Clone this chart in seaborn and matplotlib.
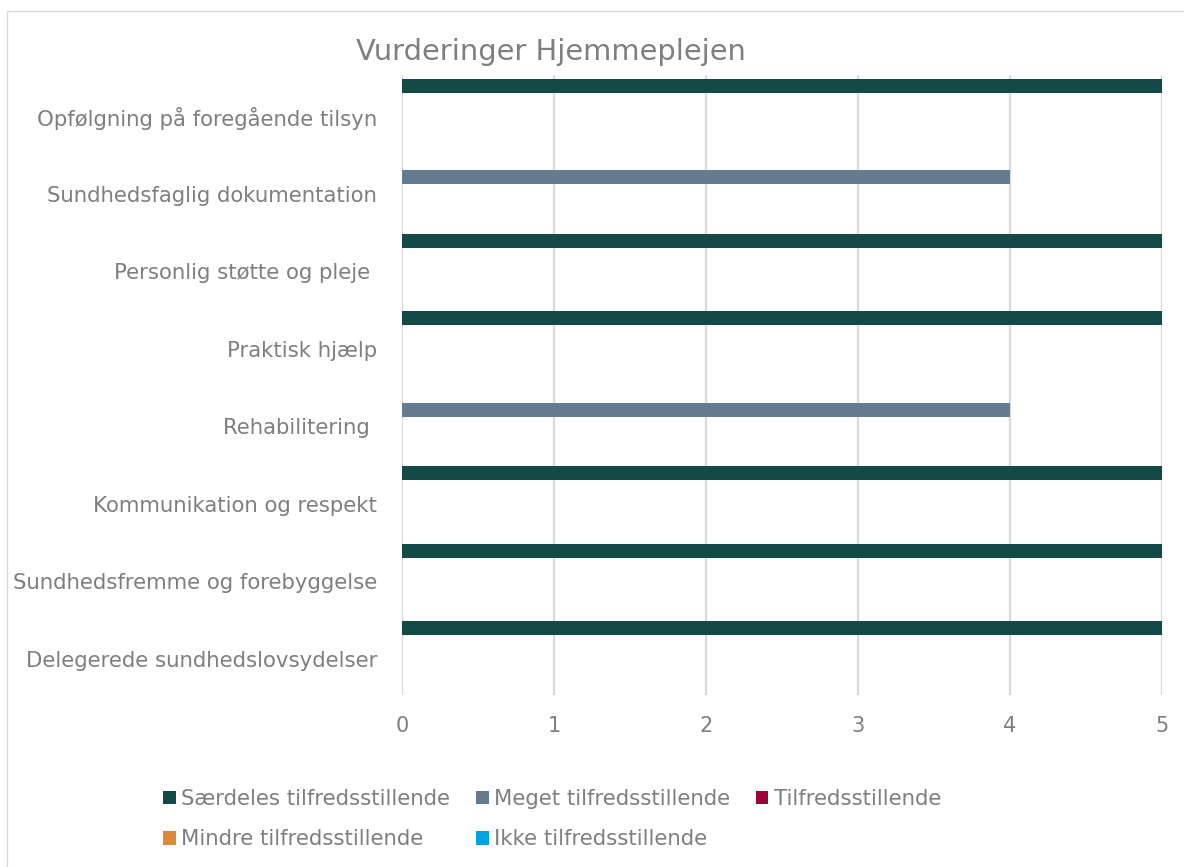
import pandas as pd
import matplotlib
matplotlib.use('Agg')
import matplotlib.pyplot as plt
import seaborn as sns
from matplotlib.patches import Patch, Rectangle

# chart data
categories = [
    'Opfølgning på foregående tilsyn',
    'Sundhedsfaglig dokumentation',
    'Personlig støtte og pleje ',
    'Praktisk hjælp',
    'Rehabilitering ',
    'Kommunikation og respekt',
    'Sundhedsfremme og forebyggelse',
    'Delegerede sundhedslovsydelser',
]
series_names = [
    'Særdeles tilfredsstillende',
    'Meget tilfredsstillende',
    'Tilfredsstillende',
    'Mindre tilfredsstillende',
    'Ikke tilfredsstillende',
]
saerdeles = [5, None, 5, 5, None, 5, 5, 5]
meget = [None, 4, None, None, 4, None, None, None]
tilfreds = [None] * 8
mindre = [None] * 8
ikke = [None] * 8
x_ticks = [0, 1, 2, 3, 4, 5]

colors = ['#144A45', '#657B90', '#A0003A', '#E0883A', '#00A2E0']
grey = '#7f7f7f'

# long format table for seaborn
rows = []
for name, vals in zip(series_names, [saerdeles, meget, tilfreds, mindre, ikke]):
    for cat, v in zip(categories, vals):
        rows.append({'kategori': cat, 'serie': name, 'værdi': v})
df = pd.DataFrame(rows).dropna()

sns.set_style('white')
plt.rcParams['font.family'] = ['DejaVu Sans']

fig = plt.figure(figsize=(11.84, 8.67), dpi=100)
ax = fig.add_axes([0.3395, 0.1984, 0.6419, 0.7151])

sns.barplot(
    data=df,
    y='kategori',
    x='værdi',
    hue='serie',
    order=categories,
    hue_order=series_names,
    palette=colors,
    saturation=1,
    orient='h',
    width=0.9,
    dodge=True,
    legend=False,
    ax=ax,
    zorder=3,
    linewidth=0,
)

ax.set_xlim(0, 5)
ax.set_ylim(len(categories) - 0.5, -0.5)
ax.set_xticks(x_ticks)
ax.set_xticklabels([str(t) for t in x_ticks], fontsize=15, color=grey)
ax.set_yticks([i + 0.03 for i in range(len(categories))])
ax.set_yticklabels(categories, fontsize=15.3, color=grey)
ax.tick_params(axis='x', length=0, pad=15)
ax.tick_params(axis='y', length=0, pad=18)
ax.set_xlabel('')
ax.set_ylabel('')
ax.grid(axis='x', color='#d9d9d9', linewidth=1.6, zorder=0)
ax.grid(axis='y', visible=False)
for s in ax.spines.values():
    s.set_visible(False)

fig.text(0.465, 0.94, 'Vurderinger Hjemmeplejen', fontsize=20.8, color=grey,
         ha='center', va='center')

# legend in row-major order
handles = [Patch(facecolor=c, edgecolor='none', label=n) for c, n in zip(colors, series_names)]
order = [0, 3, 1, 4, 2]
fig.legend(
    [handles[i] for i in order],
    [series_names[i] for i in order],
    loc='upper left',
    bbox_to_anchor=(0.129, 0.102),
    ncol=3,
    frameon=False,
    fontsize=15.3,
    labelcolor=grey,
    handlelength=0.6,
    handleheight=0.6,
    handletextpad=0.25,
    columnspacing=1.2,
    labelspacing=0.95,
    borderpad=0,
)

# outer chart border (cropped on the right and bottom)
fig.patches.append(Rectangle((7 / 1184, -0.1), 1.2, 1.1 - 11 / 867,
                             transform=fig.transFigure, fill=False,
                             edgecolor='#d9d9d9', linewidth=1))

fig.savefig('out.png', dpi=100)
plt.close(fig)
